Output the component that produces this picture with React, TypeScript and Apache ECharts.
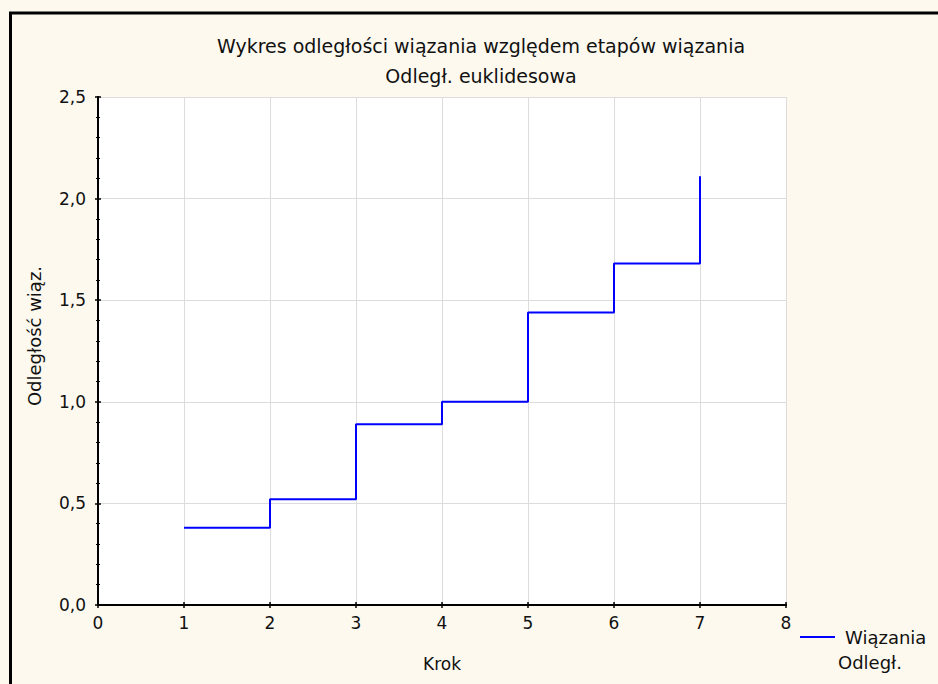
import React, { useEffect, useRef } from "react";
import * as echarts from "echarts";

const steps = [1, 2, 3, 4, 5, 6, 7];
const distances = [0.38, 0.52, 0.89, 1.0, 1.44, 1.68, 2.11];
const titleLine1 = "Wykres odległości wiązania względem etapów wiązania";
const titleLine2 = "Odległ. euklidesowa";
const yName = "Odległość wiąz.";
const seriesName = "Wiązania";
const seriesName2 = "Odległ.";

const FONT = "DejaVu Sans, Liberation Sans, Arial, sans-serif";
const FS = 17;

export default function App() {
  const ref = useRef<HTMLDivElement>(null);
  useEffect(() => {
    const chart = echarts.init(ref.current!, null, { renderer: "svg" });
    const frame = { show: true, lineStyle: { color: "#000", width: 2 } };
    const tick = { show: true, inside: true, length: 3, lineStyle: { color: "#000", width: 1.5 } };
    const minor = { show: true, splitNumber: 5, length: 2, lineStyle: { color: "#000", width: 1 } };
    chart.setOption({
      animation: false,
      backgroundColor: "#fdf9ef",
      textStyle: { fontFamily: FONT },
      title: [
        { text: titleLine1, left: 476, top: 31, textAlign: "center", textStyle: { fontSize: 19, fontWeight: "normal", color: "#111", fontFamily: FONT } },
        { text: titleLine2, left: 476, top: 61, textAlign: "center", textStyle: { fontSize: 19, fontWeight: "normal", color: "#111", fontFamily: FONT } },
      ],
      grid: { left: 98, top: 97, width: 688, height: 508, show: true, backgroundColor: "#fff", borderWidth: 0 },
      xAxis: [
        {
          type: "value", min: 0, max: 8, interval: 1, position: "bottom",
          name: "Krok", nameLocation: "middle", nameGap: 50,
          nameTextStyle: { fontSize: FS, color: "#111", fontFamily: FONT },
          axisLine: frame, axisTick: tick,
          axisLabel: { fontSize: FS, color: "#111", margin: 9, fontFamily: FONT },
          splitLine: { show: true, lineStyle: { color: "#dcdcdc", width: 1 } },
        },
        {
          type: "value", min: 0, max: 8, interval: 1, position: "top",
          axisLine: frame, axisTick: tick, axisLabel: { show: false }, splitLine: { show: false },
        },
      ],
      yAxis: [
        {
          type: "value", min: 0, max: 2.5, interval: 0.5, position: "left",
          axisLine: frame, axisTick: tick, minorTick: minor,
          axisLabel: { fontSize: FS, color: "#111", margin: 12, fontFamily: FONT, formatter: (v: number) => v.toFixed(1).replace(".", ",") },
          splitLine: { show: true, lineStyle: { color: "#dcdcdc", width: 1 } },
        },
        {
          type: "value", min: 0, max: 2.5, interval: 0.5, position: "right",
          axisLine: frame, axisTick: tick, minorTick: minor, axisLabel: { show: false }, splitLine: { show: false },
        },
      ],
      series: [
        {
          name: seriesName,
          type: "line",
          step: "end",
          showSymbol: false,
          symbol: "none",
          lineStyle: { color: "#0000ff", width: 2 },
          data: steps.map((s, i) => [s, distances[i]]),
        },
      ],
      graphic: [
        { type: "rect", shape: { x: 10.5, y: 13, width: 1200, height: 1200 }, style: { fill: "none", stroke: "#000", lineWidth: 3 }, silent: true },
        { type: "text", x: 34, y: 336, rotation: Math.PI / 2, style: { text: yName, fontSize: 18, fill: "#111", fontFamily: FONT, align: "center", verticalAlign: "middle" } },
        { type: "line", shape: { x1: 800, y1: 637, x2: 835, y2: 637 }, style: { stroke: "#0000ff", lineWidth: 2 } },
        { type: "text", x: 845, y: 637, style: { text: seriesName, fontSize: 18, fill: "#111", fontFamily: FONT, verticalAlign: "middle" } },
        { type: "text", x: 838, y: 662, style: { text: seriesName2, fontSize: 18, fill: "#111", fontFamily: FONT, verticalAlign: "middle" } },
      ],
    });
    return () => chart.dispose();
  }, []);
  return <div ref={ref} style={{ position: "fixed", left: 0, top: 0, width: 938, height: 684 }} />;
}
